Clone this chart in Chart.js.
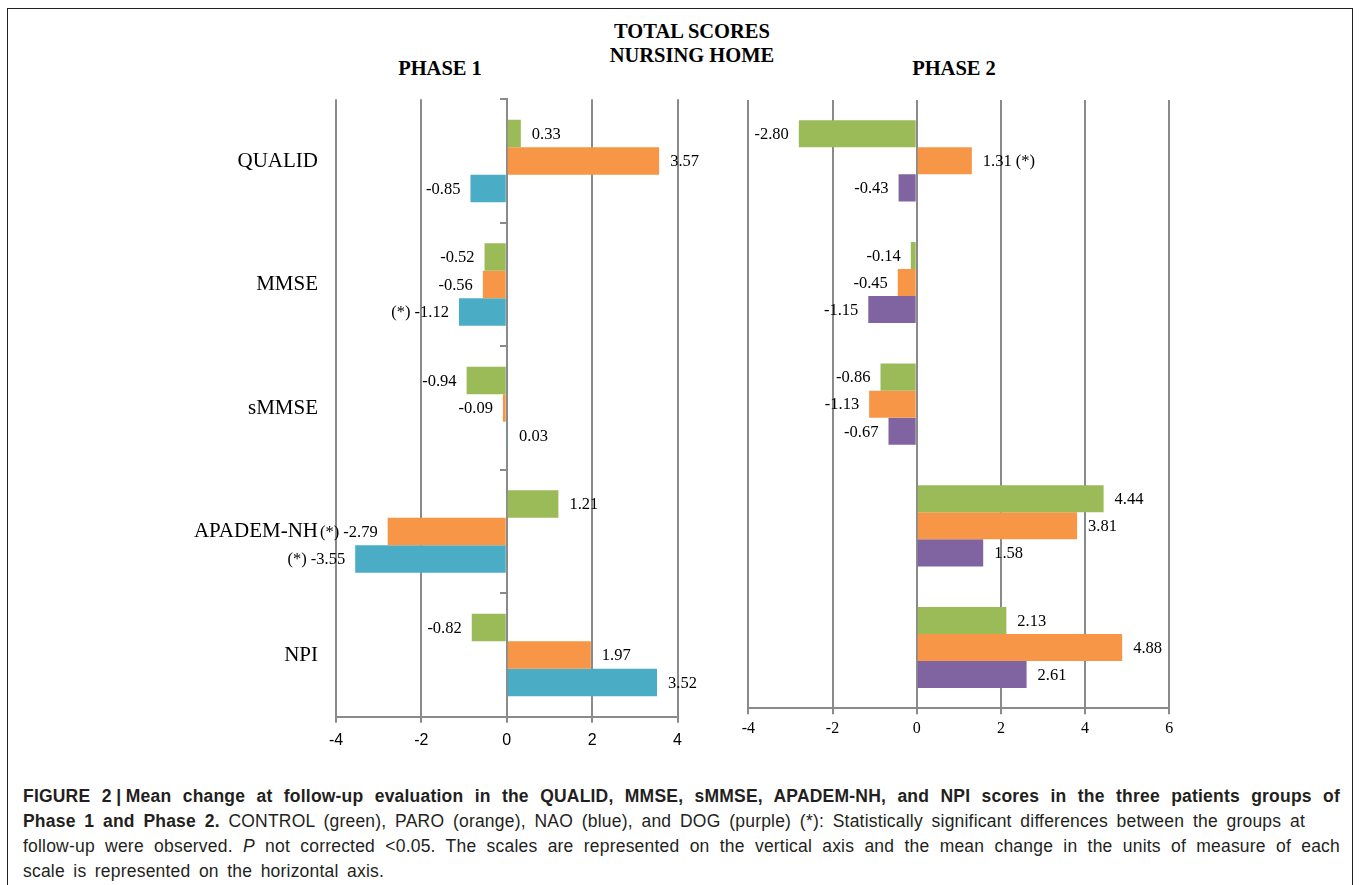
<!DOCTYPE html>
<html>
<head>
<meta charset="utf-8">
<script src="https://cdn.jsdelivr.net/npm/chart.js@4.4.1/dist/chart.umd.min.js"></script>
<style>
  html, body { margin: 0; padding: 0; background: #fff; }
  body { width: 1360px; height: 885px; position: relative; overflow: hidden; }
  .frame { position: absolute; left: 7px; top: 8px; width: 1346px; height: 900px; border: 1px solid #222; box-sizing: border-box; }
  .head { position: absolute; width: 240px; font: bold 20.5px "Liberation Serif", "Times New Roman", serif; color: #000; text-align: center; white-space: nowrap; line-height: 24.4px; }
  canvas { position: absolute; }
  .cap { position: absolute; left: 23px; top: 783.5px; font-family: "Liberation Sans", Arial, sans-serif; font-size: 17.5px; line-height: 25px; color: #231f20; letter-spacing: 0.2px; }
  .cap div { white-space: nowrap; }
</style>
</head>
<body>
<div class="frame"></div>
<div class="head" style="left:572px; top:19px;">TOTAL SCORES<br>NURSING HOME</div>
<div class="head" style="left:320px; top:56px;">PHASE 1</div>
<div class="head" style="left:834px; top:56px;">PHASE 2</div>

<canvas id="phase1" width="560" height="680" style="left:150px; top:90px;"></canvas>
<canvas id="phase2" width="480" height="680" style="left:720px; top:90px;"></canvas>

<div class="cap">
  <div><span data-w="1317"><b>FIGURE 2&#8197;|&#8197;Mean change at follow-up evaluation in the QUALID, MMSE, sMMSE, APADEM-NH, and NPI scores in the three patients groups of</b></span></div>
  <div><span data-w="1282"><b>Phase 1 and Phase 2.</b> CONTROL (green), PARO (orange), NAO (blue), and DOG (purple) (*): Statistically significant differences between the groups at</span></div>
  <div><span data-w="1317">follow-up were observed. <i>P</i> not corrected &lt;0.05. The scales are represented on the vertical axis and the mean change in the units of measure of each</span></div>
  <div><span data-w="361">scale is represented on the horizontal axis.</span></div>
</div>

<script>
// scales (rows) shown in both panels
const categories = ['QUALID', 'MMSE', 'sMMSE', 'APADEM-NH', 'NPI'];

// mean change at follow-up, phase 1
const phase1Control = [0.33, -0.52, -0.94, 1.21, -0.82];
const phase1Paro = [3.57, -0.56, -0.09, -2.79, 1.97];
const phase1Nao = [-0.85, -1.12, 0.03, -3.55, 3.52];

// mean change at follow-up, phase 2
const phase2Control = [-2.80, -0.14, -0.86, 4.44, 2.13];
const phase2Paro = [1.31, -0.45, -1.13, 3.81, 4.88];
const phase2Dog = [-0.43, -1.15, -0.67, 1.58, 2.61];

// (*) statistically significant differences
const noSig = [false, false, false, false, false];
const phase1ParoSig = [false, false, false, true, false];
const phase1NaoSig = [false, true, false, true, false];
const phase2ParoSig = [true, false, false, false, false];

// horizontal axis ticks
const phase1Ticks = [-4, -2, 0, 2, 4];
const phase2Ticks = [-4, -2, 0, 2, 4, 6];

const green = '#9BBB59';
const orange = '#F79646';
const blue = '#4BACC6';
const purple = '#8064A2';
const gridGray = '#8a8a8a';

// value labels at the outside end of each bar
const valueLabels = {
    id: 'valueLabels',
    afterDatasetsDraw(chart) {
        const ctx = chart.ctx;
        ctx.save();
        ctx.font = '16.5px "Liberation Serif", "Times New Roman", serif';
        ctx.fillStyle = '#000';
        ctx.textBaseline = 'middle';
        chart.data.datasets.forEach(function (ds, i) {
            chart.getDatasetMeta(i).data.forEach(function (bar, j) {
                const v = ds.data[j];
                let txt = v.toFixed(2);
                if (ds.sig[j]) txt = v < 0 ? '(*) ' + txt : txt + ' (*)';
                ctx.textAlign = v < 0 ? 'right' : 'left';
                ctx.fillText(txt, v < 0 ? bar.x - 10 : bar.x + 11, bar.y + 1);
            });
        });
        ctx.restore();
    }
};

function xAxis(ticks, font, pad) {
    return {
        min: ticks[0],
        max: ticks[ticks.length - 1],
        afterBuildTicks: function (s) { s.ticks = ticks.map(function (v) { return { value: v }; }); },
        ticks: { color: '#000', font: font, padding: pad },
        grid: { color: gridGray, lineWidth: 2, tickLength: 6 },
        border: { color: gridGray, width: 2 },
        afterFit: function (s) { s.height = 40; }
    };
}

new Chart(document.getElementById('phase1'), {
    type: 'bar',
    data: {
        labels: categories,
        datasets: [
            { label: 'CONTROL', data: phase1Control, sig: noSig, backgroundColor: green },
            { label: 'PARO', data: phase1Paro, sig: phase1ParoSig, backgroundColor: orange },
            { label: 'NAO', data: phase1Nao, sig: phase1NaoSig, backgroundColor: blue }
        ]
    },
    options: {
        indexAxis: 'y',
        responsive: false,
        animation: false,
        categoryPercentage: 0.667,
        barPercentage: 1,
        layout: { padding: { top: 9.25, right: 32.5, bottom: 13.25, left: 0 } },
        scales: {
            x: xAxis(phase1Ticks, { family: 'Liberation Sans', size: 16 }, 8),
            y: {
                position: 'left',
                grid: { display: false, drawTicks: false },
                border: { display: false },
                ticks: { color: '#000', font: { family: 'Liberation Serif', size: 21 }, padding: 18 },
                afterFit: function (s) {
                    s.width = 186;
                    s.paddingTop = 0;
                    s.paddingBottom = 0;
                }
            },
            // vertical axis crossing at zero, tick marks between scales
            y0: {
                type: 'category',
                axis: 'y',
                position: { x: 0 },
                offset: true,
                grid: { offset: true, drawOnChartArea: false, tickLength: 6, color: gridGray, lineWidth: 2 },
                border: { color: gridGray, width: 2 },
                ticks: { display: false }
            }
        },
        plugins: {
            legend: { display: false },
            tooltip: { enabled: false }
        }
    },
    plugins: [valueLabels]
});

new Chart(document.getElementById('phase2'), {
    type: 'bar',
    data: {
        labels: categories,
        datasets: [
            { label: 'CONTROL', data: phase2Control, sig: noSig, backgroundColor: green },
            { label: 'PARO', data: phase2Paro, sig: phase2ParoSig, backgroundColor: orange },
            { label: 'DOG', data: phase2Dog, sig: noSig, backgroundColor: purple }
        ]
    },
    options: {
        indexAxis: 'y',
        responsive: false,
        animation: false,
        categoryPercentage: 0.667,
        barPercentage: 1,
        layout: { padding: { top: 10, right: 30.7, bottom: 21.7, left: 28.3 } },
        scales: {
            x: xAxis(phase2Ticks, { family: 'Liberation Serif', size: 16 }, 5),
            y: { display: false }
        },
        plugins: {
            legend: { display: false },
            tooltip: { enabled: false }
        }
    },
    plugins: [valueLabels]
});

// spread caption words so each line ends where it does in the figure
document.querySelectorAll('.cap span').forEach(function (el) {
    const target = parseFloat(el.dataset.w);
    const gaps = (el.textContent.match(/ /g) || []).length;
    const natural = el.getBoundingClientRect().width;
    if (gaps) el.style.wordSpacing = ((target - natural) / gaps) + 'px';
});
</script>
</body>
</html>
